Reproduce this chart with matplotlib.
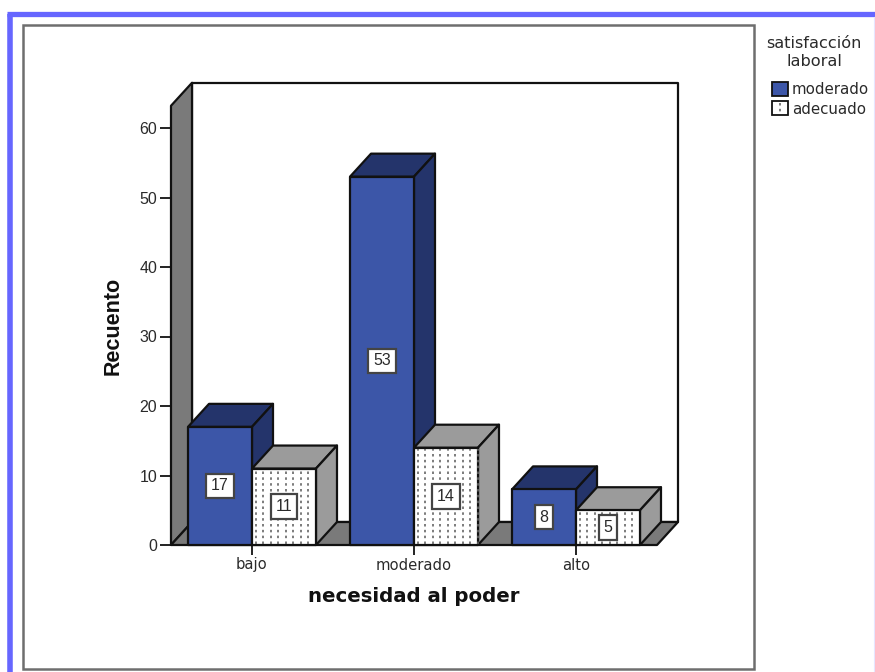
import numpy as np
import matplotlib
matplotlib.use('Agg')
import matplotlib.pyplot as plt
from matplotlib.patches import Polygon, Rectangle

plt.rcParams['font.family'] = ['Liberation Sans', 'DejaVu Sans']

categories = ['bajo', 'moderado', 'alto']
moderado = [17, 53, 8]
adecuado = [11, 14, 5]
series_names = ['moderado', 'adecuado']
yticks = [0, 10, 20, 30, 40, 50, 60]

W, H = 875, 672
BLUE = ('#3c56a8', '#24346b')
GREY = ('#ffffff', '#9b9b9b')
WALL = '#7a7a7a'
INK = '#111111'
TEXT = '#2a2a2a'

# depth of the fake 3d projection, in data units
BAR_W = 0.395
DX = 21 / 162
DY = 23 / 6.95
YTOP = 63.2

fig = plt.figure(figsize=(W / 100, H / 100), dpi=100)

# page decoration in pixel coordinates
bg = fig.add_axes([0, 0, 1, 1])
bg.set_xlim(0, W)
bg.set_ylim(H, 0)
bg.axis('off')
bg.plot([9.5, 9.5], [H, 14.3], color='#6666ff', lw=4, solid_capstyle='butt')
bg.plot([7, W], [14.3, 14.3], color='#6666ff', lw=3.8, solid_capstyle='butt')
bg.plot([W - 1, W - 1], [17, H], color='#e6e6ff', lw=0.8)
bg.add_patch(Rectangle((22.5, 24.5), 731, 644, fill=False, ec='#6e6e6e', lw=1.8))

ax = fig.add_axes([171 / W, (H - 545) / H, 486 / W, YTOP * 6.95 / H])
ax.set_xlim(-0.5, 2.5)
ax.set_ylim(0, YTOP)
ax.patch.set_visible(False)
for s in ax.spines.values():
    s.set_visible(False)


def poly(pts, fc, z=2):
    ax.add_patch(Polygon(pts, closed=True, fc=fc, ec=INK, lw=1.6, clip_on=False,
                         joinstyle='round', zorder=z))


def bar3d(x0, x1, h, front, side, dotted=False):
    poly([(x0, h), (x1, h), (x1 + DX, h + DY), (x0 + DX, h + DY)], side)
    poly([(x1, 0), (x1, h), (x1 + DX, h + DY), (x1 + DX, DY)], side)
    poly([(x0, 0), (x1, 0), (x1, h), (x0, h)], front)
    if dotted:
        for xd in np.arange(x0 + BAR_W / 17, x1, BAR_W / 8.5):
            ax.plot([xd, xd], [0.2, h - 0.2], color='#666666', lw=1.2,
                    dashes=(1.5, 2.0), zorder=2.5, clip_on=False)


# back wall, side wall and floor
x_l, x_r = ax.get_xlim()
poly([(x_l + DX, DY), (x_r + DX, DY), (x_r + DX, YTOP + DY), (x_l + DX, YTOP + DY)], 'white', 1)
poly([(x_l, 0), (x_l + DX, DY), (x_l + DX, YTOP + DY), (x_l, YTOP)], WALL, 1)
poly([(x_l, 0), (x_r, 0), (x_r + DX, DY), (x_l + DX, DY)], WALL, 1)

for i, (a, b) in enumerate(zip(moderado, adecuado)):
    bar3d(i - BAR_W, i, a, *BLUE)
    bar3d(i, i + BAR_W, b, *GREY, dotted=True)
    for xc, v in ((i - BAR_W / 2, a), (i + BAR_W / 2, b)):
        ax.text(xc, v / 2, str(v), ha='center', va='center', fontsize=11.5, color=TEXT, zorder=4,
                bbox=dict(boxstyle='square,pad=0.3', fc='white', ec='#444444', lw=1.6))

ax.set_xticks(range(len(categories)), categories, family='DejaVu Sans')
ax.set_yticks(yticks)
ax.tick_params(axis='x', length=7, width=1.3, color=INK, labelsize=10.6, labelcolor=TEXT, pad=2)
ax.tick_params(axis='y', length=8, width=1.3, color=INK, labelsize=11.5, labelcolor=TEXT, pad=2)
for t in ax.get_xticklines():
    t.set_zorder(5)

fig.text(113 / W, 1 - 326 / H, 'Recuento', rotation=90, ha='center', va='center',
         fontsize=15.5, fontweight='bold', color='#111111')
fig.text(414 / W, 1 - 597 / H, 'necesidad al poder', ha='center', va='center',
         fontsize=14.2, fontweight='bold', color='#111111', family='DejaVu Sans')

# legend
bg.text(814, 43, 'satisfacción', ha='center', va='center', fontsize=11.6, color=TEXT,
        family='DejaVu Sans')
bg.text(814, 61, 'laboral', ha='center', va='center', fontsize=11.6, color=TEXT,
        family='DejaVu Sans')
bg.add_patch(Rectangle((772, 82), 16, 14, fc=BLUE[0], ec=INK, lw=1.3))
bg.add_patch(Rectangle((772, 101), 16, 14, fc='white', ec=INK, lw=1.3))
bg.plot([780, 780], [103, 114], color='#666666', lw=1.2, dashes=(1.5, 2.0))
bg.text(792, 90, series_names[0], ha='left', va='center', fontsize=10.8, color=TEXT,
        family='DejaVu Sans')
bg.text(792, 109, series_names[1], ha='left', va='center', fontsize=10.8, color=TEXT,
        family='DejaVu Sans')

fig.savefig('out.png', dpi=100)
